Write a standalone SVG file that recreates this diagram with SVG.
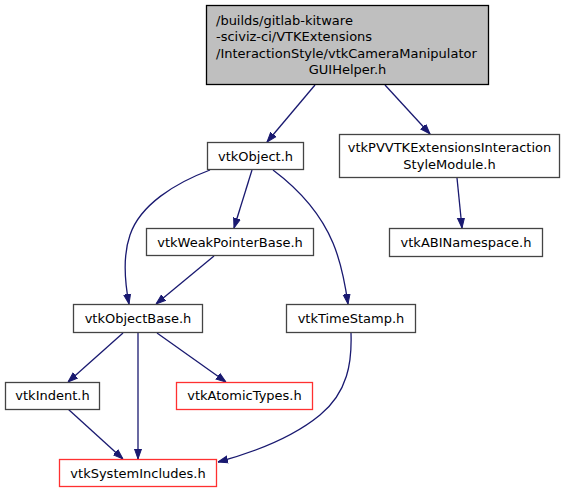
<svg xmlns="http://www.w3.org/2000/svg" width="572" height="493" viewBox="0 0 572 493">
<style>
text{font-family:"DejaVu Sans",sans-serif;font-size:13px;fill:#000;text-anchor:middle}
.n{fill:#fff;stroke:#444;stroke-width:1.3}
.r{fill:#fff;stroke:#ff3030;stroke-width:1.3}
.e{fill:none;stroke:#191970;stroke-width:1.3}
</style>
<defs>
<marker id="a" viewBox="0 0 10 10" refX="10" refY="5" markerWidth="10" markerHeight="10" markerUnits="userSpaceOnUse" orient="auto">
<path d="M0,1.5L10,5L0,8.5Z" fill="#191970" stroke="#191970"/>
</marker>
</defs>
<rect width="572" height="493" fill="#fff"/>
<g id="edges">
<path class="e" marker-end="url(#a)" d="M315,85L267,142"/>
<path class="e" marker-end="url(#a)" d="M385,85L430,134"/>
<path class="e" marker-end="url(#a)" d="M252,170L234,228"/>
<path class="e" marker-end="url(#a)" d="M210,170C175,183 140,205 130,235C122,258 125,283 129,304"/>
<path class="e" marker-end="url(#a)" d="M214,256L156,304"/>
<path class="e" marker-end="url(#a)" d="M273,170C297,188 320,212 333,243C341,262 345,283 348,304"/>
<path class="e" marker-end="url(#a)" d="M457,178L462,228"/>
<path class="e" marker-end="url(#a)" d="M123,333L68,382"/>
<path class="e" marker-end="url(#a)" d="M138,333L138,459"/>
<path class="e" marker-end="url(#a)" d="M157,333L226,382"/>
<path class="e" marker-end="url(#a)" d="M68,409L123,459"/>
<path class="e" marker-end="url(#a)" d="M351,333C352,362 348,392 320,415C292,438 255,452 218,462"/>
</g>
<g id="n0">
<rect x="206.5" y="5.5" width="282" height="79" fill="#bfbfbf" stroke="#000" stroke-width="1.3"/>
<text x="216" y="24.5" style="text-anchor:start">/builds/gitlab-kitware</text>
<text x="216" y="41" style="text-anchor:start">-sciviz-ci/VTKExtensions</text>
<text x="216" y="57.5" style="text-anchor:start">/InteractionStyle/vtkCameraManipulator</text>
<text x="347.5" y="74">GUIHelper.h</text>
</g>
<g id="n1">
<rect class="n" x="207.5" y="142.5" width="96" height="27"/>
<text x="255.5" y="160.5">vtkObject.h</text>
</g>
<g id="n2">
<rect class="n" x="339.5" y="134.5" width="220" height="43"/>
<text x="449.5" y="152">vtkPVVTKExtensionsInteraction</text>
<text x="449.5" y="168.5">StyleModule.h</text>
</g>
<g id="n3">
<rect class="n" x="389.5" y="228.5" width="153" height="28"/>
<text x="466" y="246.5">vtkABINamespace.h</text>
</g>
<g id="n4">
<rect class="n" x="146.5" y="228.5" width="167" height="27"/>
<text x="230" y="246.5">vtkWeakPointerBase.h</text>
</g>
<g id="n5">
<rect class="n" x="73.5" y="304.5" width="129" height="28"/>
<text x="138" y="322.5">vtkObjectBase.h</text>
</g>
<g id="n6">
<rect class="n" x="286.5" y="304.5" width="129" height="28"/>
<text x="351" y="322.5">vtkTimeStamp.h</text>
</g>
<g id="n7">
<rect class="n" x="5.5" y="382.5" width="94" height="27"/>
<text x="52.5" y="400">vtkIndent.h</text>
</g>
<g id="n8">
<rect class="r" x="176.5" y="382.5" width="136" height="27"/>
<text x="244.5" y="400">vtkAtomicTypes.h</text>
</g>
<g id="n9">
<rect class="r" x="59.5" y="459.5" width="157" height="27"/>
<text x="138" y="477.5">vtkSystemIncludes.h</text>
</g>
</svg>
